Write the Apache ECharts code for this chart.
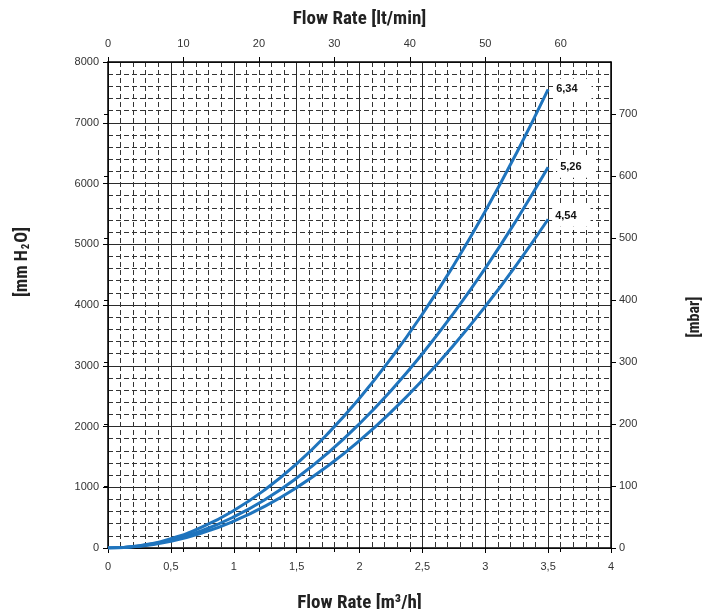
<!DOCTYPE html>
<html><head><meta charset="utf-8">
<script src="https://cdn.jsdelivr.net/npm/echarts@6/dist/echarts.min.js"></script>
<style>html,body{margin:0;padding:0;background:#fff}#c{width:721px;height:609px}</style>
</head><body><div id="c"></div>
<script>
// Flow rate in m3/h (x)
var flowM3h = [0, 0.25, 0.5, 0.75, 1, 1.25, 1.5, 1.75, 2, 2.25, 2.5, 2.75, 3, 3.25, 3.5];
// Pressure drop in mm H2O for each curve
var curve634 = [0, 38, 154, 347, 616, 963, 1386, 1887, 2464, 3119, 3850, 4659, 5544, 6507, 7550];
var curve526 = [0, 32, 128, 288, 512, 799, 1151, 1567, 2046, 2590, 3198, 3869, 4604, 5404, 6267];
var curve454 = [0, 28, 110, 248, 442, 690, 994, 1353, 1767, 2236, 2761, 3340, 3975, 4665, 5411];
var seriesNames = ['6,34', '5,26', '4,54'];
var labelOffsets = [[1, 0], [5, 0], [0, -3]];

var titleFont = '"Roboto Condensed","Liberation Sans Narrow","DejaVu Sans Condensed",Roboto,sans-serif';
var tickFont = '"Liberation Sans",Arial,sans-serif';

function pairs(xs, ys) { return xs.map(function (x, i) { return [x, ys[i]]; }); }
var curves = [curve634, curve526, curve454];

var chart = echarts.init(document.getElementById('c'));
var solid = '#2a2a2a', dashC = '#333';
chart.setOption({
  animation: false,
  backgroundColor: '#fff',
  grid: { left: 108, right: 110, top: 62, bottom: 61, containLabel: false, outerBoundsMode: 'none' },
  xAxis: [
    { type: 'value', position: 'bottom', min: 0, max: 4, interval: 0.5,
      axisLine: { show: true, onZero: false, lineStyle: { color: '#000', width: 1.5 } },
      axisTick: { show: true, length: 5, lineStyle: { color: '#000' } },
      axisLabel: { margin: 13, color: '#333', fontSize: 11, fontFamily: tickFont,
        formatter: function (v) { return String(v).replace('.', ','); } },
      splitLine: { show: true, lineStyle: { color: solid, width: 1 } },
      minorTick: { show: false, splitNumber: 5 },
      minorSplitLine: { show: true, lineStyle: { color: dashC, width: 1, type: [5, 3] } },
      name: 'Flow Rate [m³/h]', nameLocation: 'middle', nameGap: 46,
      nameTextStyle: { fontFamily: titleFont, fontWeight: 'bold', fontSize: 19, color: '#222' } },
    { type: 'value', position: 'top', min: 0, max: 4000 / 60, interval: 10,
      axisLine: { show: true, onZero: false, lineStyle: { color: '#000', width: 1.5 } },
      axisTick: { show: true, length: 5, lineStyle: { color: '#000' } },
      axisLabel: { margin: 13, color: '#333', fontSize: 11, fontFamily: tickFont, showMaxLabel: false },
      splitLine: { show: false },
      name: 'Flow Rate [lt/min]', nameLocation: 'middle', nameGap: 33,
      nameTextStyle: { fontFamily: titleFont, fontWeight: 'bold', fontSize: 19, color: '#222' } },
    { type: 'value', position: 'top', min: 0, max: 4000 / 60, interval: 10,
      axisLine: { show: false }, axisLabel: { show: false }, splitLine: { show: false },
      axisTick: { show: true, inside: true, length: 4, lineStyle: { color: '#000' } } }
  ],
  yAxis: [
    { type: 'value', position: 'left', min: 0, max: 8000, interval: 1000,
      axisLine: { show: true, onZero: false, lineStyle: { color: '#000', width: 1.5 } },
      axisTick: { show: true, length: 5, lineStyle: { color: '#000' } },
      axisLabel: { margin: 9, color: '#333', fontSize: 11, fontFamily: tickFont,
        formatter: function (v) { return String(v); } },
      splitLine: { show: true, lineStyle: { color: solid, width: 1 } },
      minorTick: { show: false, splitNumber: 5 },
      minorSplitLine: { show: true, lineStyle: { color: dashC, width: 1, type: [5, 3] } } },
    { type: 'value', position: 'right', min: 0, max: 8000 * 0.0980665, interval: 100,
      axisLine: { show: true, onZero: false, lineStyle: { color: '#000', width: 1.5 } },
      axisTick: { show: true, length: 5, lineStyle: { color: '#000' } },
      axisLabel: { margin: 8, color: '#333', fontSize: 11, fontFamily: tickFont, showMaxLabel: false,
        formatter: function (v) { return String(v); } },
      splitLine: { show: false } },
    { type: 'value', position: 'right', min: 0, max: 8000 * 0.0980665, interval: 100,
      axisLine: { show: false }, axisLabel: { show: false }, splitLine: { show: false },
      axisTick: { show: true, inside: true, length: 4, lineStyle: { color: '#000' } } }
  ],
  graphic: [
    { type: 'text', x: 22, y: 262, rotation: Math.PI / 2,
      style: { text: '{t|[mm H}{s|2}{t|O]}', align: 'center', verticalAlign: 'middle',
        rich: { t: { fontFamily: titleFont, fontWeight: 'bold', fontSize: 18, fill: '#222' },
                s: { fontFamily: titleFont, fontWeight: 'bold', fontSize: 11, fill: '#222', verticalAlign: 'bottom', padding: [9, 1, 0, 1] } } } },
    { type: 'text', x: 695, y: 317, rotation: Math.PI / 2,
      style: { text: '[mbar]', align: 'center', verticalAlign: 'middle',
        fontFamily: titleFont, fontWeight: 'bold', fontSize: 16, fill: '#222' } }
  ],
  series: curves.map(function (c, i) {
    return {
      type: 'line', name: seriesNames[i], xAxisIndex: 0, yAxisIndex: 0,
      data: pairs(flowM3h, c), smooth: true, showSymbol: false, symbol: 'none',
      lineStyle: { color: '#1f74bd', width: 3 }, itemStyle: { color: '#1f74bd' },
      endLabel: { show: true, formatter: '{a}', distance: 4, offset: labelOffsets[i],
        color: '#111', fontSize: 11, fontWeight: 'bold', fontFamily: tickFont,
        backgroundColor: '#fff', padding: [5, 14, 5, 3] },
      z: 3
    };
  })
});
</script></body></html>
